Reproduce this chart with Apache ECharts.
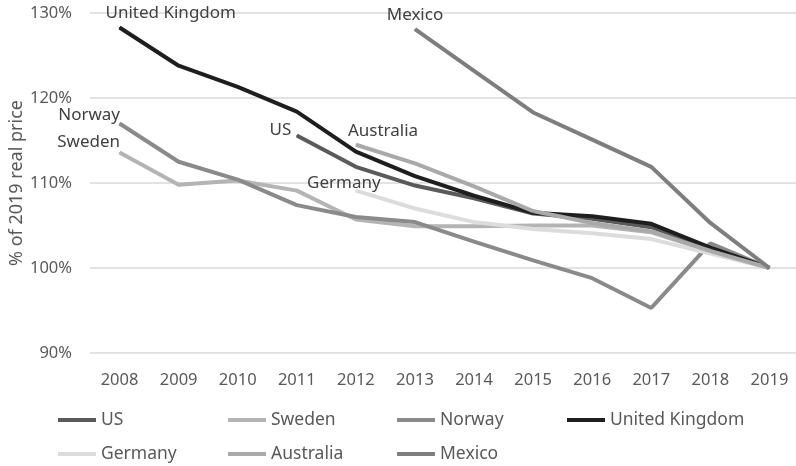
<!DOCTYPE html>
<html>
<head>
<meta charset="utf-8">
<script src="https://cdn.jsdelivr.net/npm/echarts@6/dist/echarts.min.js"></script>
<style>
  html, body { margin: 0; padding: 0; background: #fff; }
  #chart { width: 796px; height: 466px; }
</style>
</head>
<body>
<div id="chart"></div>
<script>
// years on the x axis
var years = ['2008', '2009', '2010', '2011', '2012', '2013', '2014', '2015', '2016', '2017', '2018', '2019']

// price as % of 2019 real price, null where a country has no data yet
var us = [null, null, null, 115.6, 111.9, 109.7, 108.2, 106.4, 105.8, 104.8, 102.3, 100]
var sweden = [113.6, 109.8, 110.3, 109.1, 105.7, 104.9, 104.9, 105.0, 105.0, 104.2, 102.0, 100]
var norway = [117.0, 112.5, 110.4, 107.4, 106.0, 105.4, 103.1, 100.9, 98.8, 95.3, 102.9, 100]
var uk = [128.3, 123.8, 121.3, 118.4, 113.7, 110.8, 108.5, 106.5, 106.1, 105.2, 102.4, 100]
var germany = [null, null, null, null, 109.1, 107.0, 105.4, 104.6, 104.1, 103.4, 101.7, 100]
var australia = [null, null, null, null, 114.5, 112.3, 109.6, 106.7, 105.3, 104.3, 102.0, 100]
var mexico = [null, null, null, null, null, 128.1, 123.2, 118.3, 115.1, 111.9, 105.3, 100]

var font = 'Noto Sans'
var textGray = '#595959'

var chart = echarts.init(document.getElementById('chart'))

// label the first point of a series with its name
function firstLabeled(values, name, label) {
  var out = values.slice()
  for (var i = 0; i < out.length; i++) {
    if (out[i] != null) {
      out[i] = {
        value: out[i],
        label: Object.assign({
          show: true,
          formatter: name,
          color: '#404040',
          fontFamily: font,
          fontSize: 17
        }, label)
      }
      break
    }
  }
  return out
}

function line(name, values, color, label) {
  return {
    name: name,
    type: 'line',
    data: firstLabeled(values, name, label),
    symbol: 'circle',
    symbolSize: 1,
    showSymbol: true,
    connectNulls: false,
    lineStyle: { color: color, width: 4 },
    itemStyle: { color: color },
    emphasis: { disabled: true }
  }
}

// one legend per item so the columns line up like the original
function legendAt(name, left, top) {
  return {
    data: [name],
    left: left,
    top: top,
    padding: 0,
    icon: 'rect',
    itemWidth: 38,
    itemHeight: 4,
    itemGap: 0,
    textStyle: { color: textGray, fontFamily: font, fontSize: 17.5 }
  }
}

chart.setOption({
  animation: false,
  legend: [
    legendAt('US', 58, 411),
    legendAt('Sweden', 228, 411),
    legendAt('Norway', 397, 411),
    legendAt('United Kingdom', 567, 411),
    legendAt('Germany', 58, 445),
    legendAt('Australia', 228, 445),
    legendAt('Mexico', 397, 445)
  ],
  grid: { left: 90, top: 13, width: 709, height: 340, outerBoundsMode: 'none', containLabel: false },
  xAxis: {
    type: 'category',
    data: years,
    boundaryGap: true,
    axisLine: { show: false },
    axisTick: { show: false },
    axisLabel: { color: textGray, fontFamily: font, fontSize: 16.5, margin: 19 }
  },
  yAxis: {
    type: 'value',
    min: 90,
    max: 130,
    interval: 10,
    name: '% of 2019 real price',
    nameLocation: 'middle',
    nameGap: 64,
    nameMoveOverlap: false,
    nameTextStyle: { color: textGray, fontFamily: font, fontSize: 18 },
    axisLine: { show: false },
    axisTick: { show: false },
    axisLabel: { color: textGray, fontFamily: font, fontSize: 16.5, margin: 18, formatter: '{value}%' },
    splitLine: { lineStyle: { color: '#d9d9d9', width: 1.5 } }
  },
  series: [
    line('US', us, '#5a5a5a', { position: 'left', distance: 5, offset: [0, -5] }),
    line('Sweden', sweden, '#b4b4b4', { position: 'left', distance: 0, offset: [1, -10] }),
    line('Norway', norway, '#8a8a8a', { position: 'left', distance: 0, offset: [1, -8] }),
    line('United Kingdom', uk, '#1e1e1e', { position: 'top', align: 'left', offset: [-14, 0] }),
    line('Germany', germany, '#dcdcdc', { position: 'top', align: 'center', offset: [-12, 7] }),
    line('Australia', australia, '#a9a9a9', { position: 'top', align: 'left', offset: [-8, 0] }),
    line('Mexico', mexico, '#7e7e7e', { position: 'top', align: 'center', offset: [0, 0] })
  ]
})
</script>
</body>
</html>
